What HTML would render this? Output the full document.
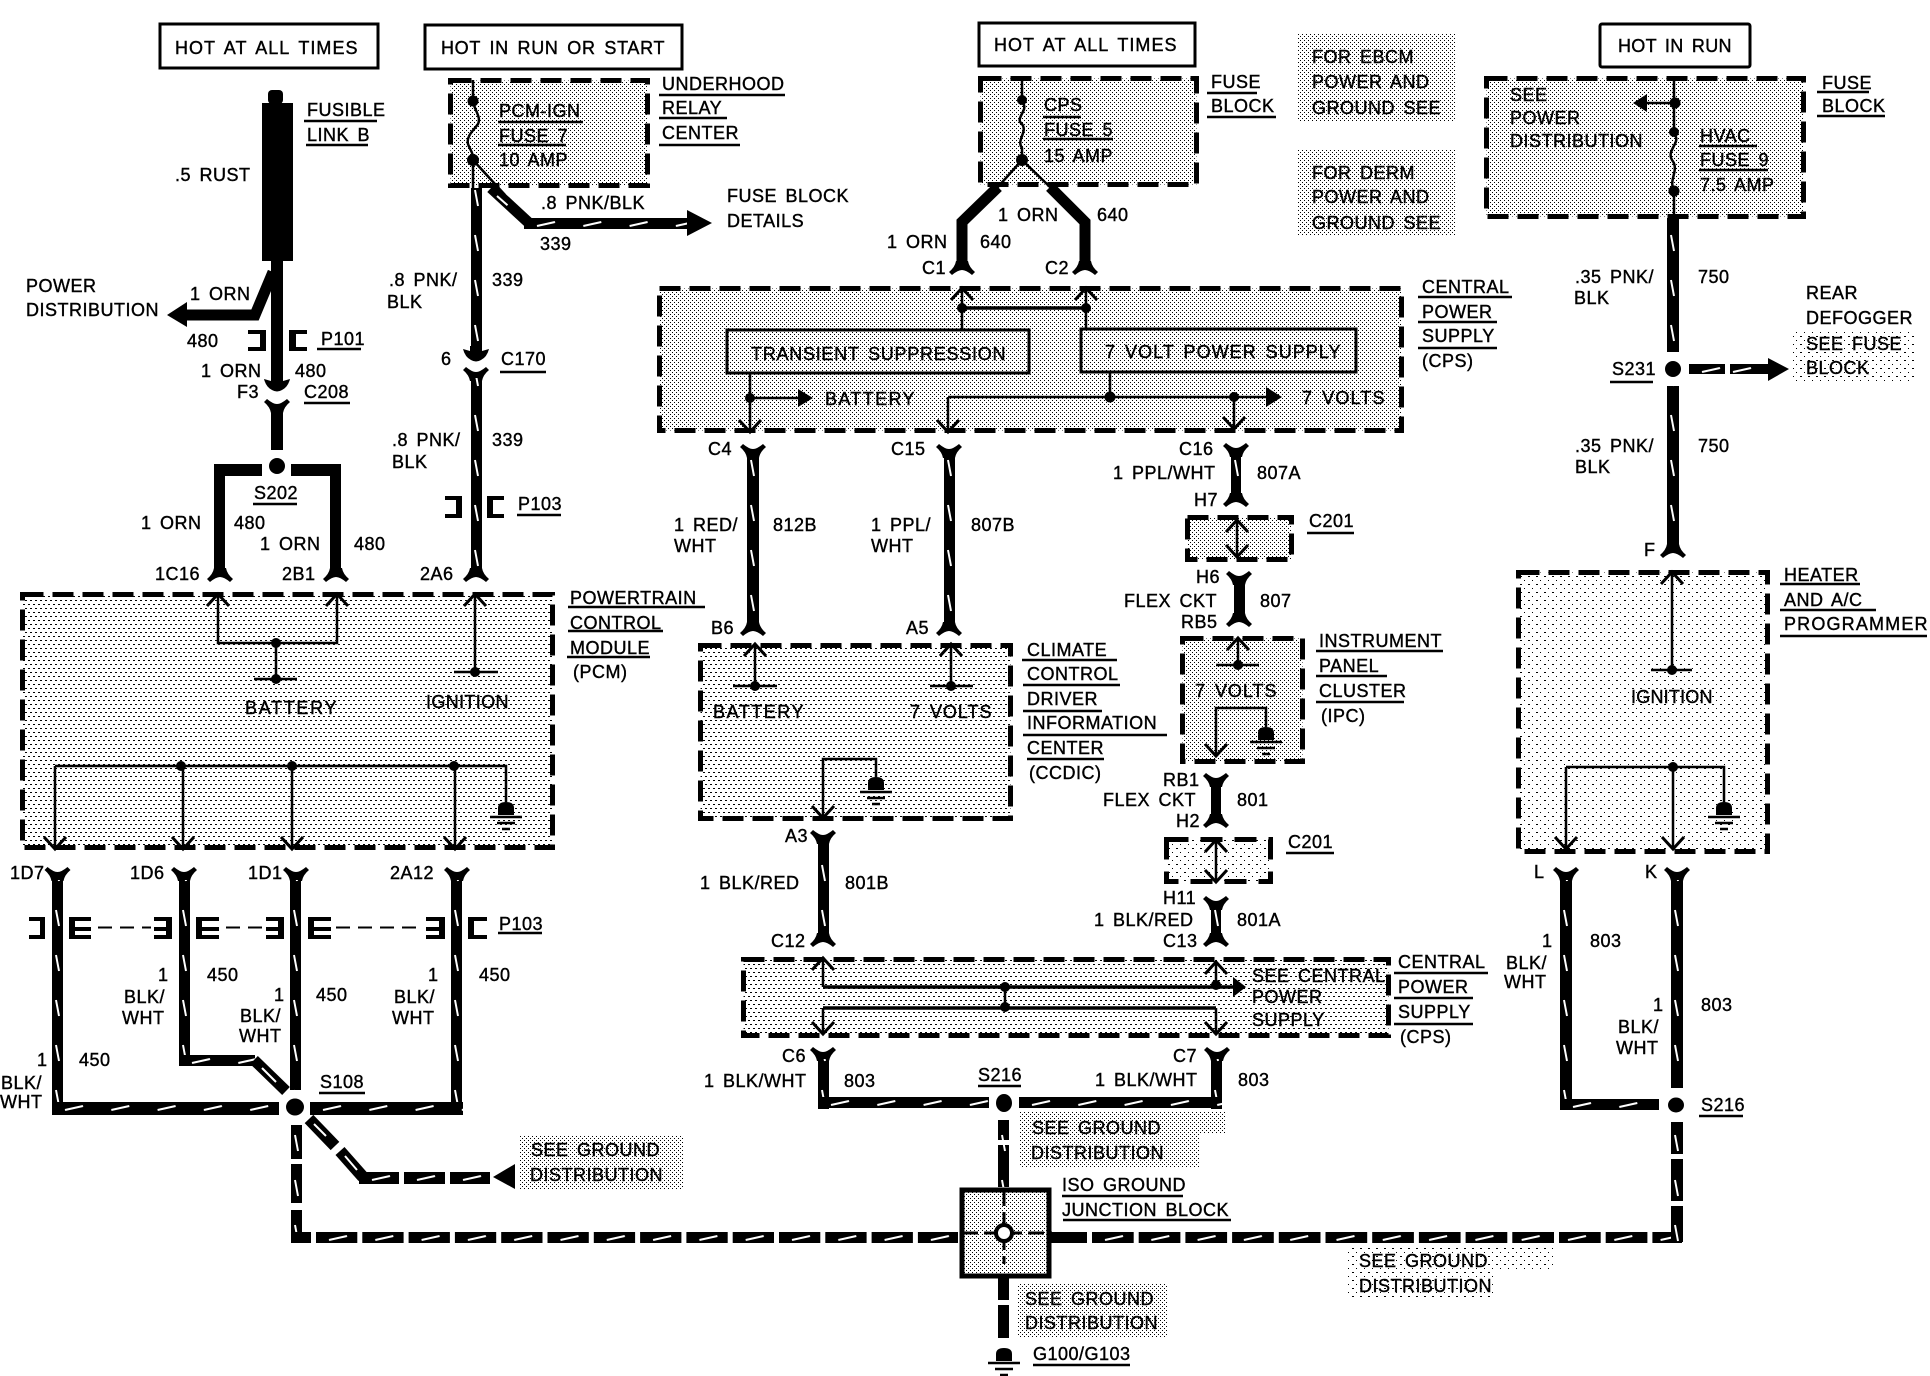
<!DOCTYPE html>
<html><head><meta charset="utf-8"><style>
html,body{margin:0;padding:0;background:#fff}
svg{display:block}
text{font-family:"Liberation Sans",sans-serif;font-size:18px;letter-spacing:.5px;word-spacing:3px;fill:#000;stroke:#000;stroke-width:.4}
.d{fill:url(#st);stroke:#000;stroke-width:5;stroke-dasharray:21 9}
.dd{fill:url(#st2);stroke:#000;stroke-width:5;stroke-dasharray:21 9}
.ds{fill:url(#st3);stroke:#000;stroke-width:5;stroke-dasharray:21 9}
.s{fill:url(#st2)}
.b{fill:#fff;stroke:#000;stroke-width:3}
.u{fill:none;stroke:#000;stroke-width:2.5}
.t{fill:none;stroke:#000;stroke-width:2.5}
.m{fill:none;stroke:#000;stroke-width:3.5}
.w{fill:none;stroke:#000;stroke-width:11;stroke-linejoin:miter}
.v{fill:url(#v)}.h{fill:url(#h)}
</style></head><body>
<svg width="1930" height="1376" viewBox="0 0 1930 1376" xmlns="http://www.w3.org/2000/svg">
<defs>
<pattern id="st" width="5" height="8" patternUnits="userSpaceOnUse"><rect x="0" y="0" width="2" height="1" fill="#000"/><rect x="3" y="4" width="2" height="1" fill="#000"/></pattern>
<pattern id="st2" width="4" height="4" patternUnits="userSpaceOnUse"><rect x="0" y="0" width="1" height="1" fill="#000"/><rect x="2" y="2" width="1" height="1" fill="#000"/></pattern>
<pattern id="st3" width="8" height="8" patternUnits="userSpaceOnUse"><rect x="0" y="0" width="2" height="1" fill="#000"/><rect x="4" y="4" width="1" height="1" fill="#000"/></pattern>
<pattern id="v" width="40" height="45" patternUnits="userSpaceOnUse"><rect width="40" height="45" fill="#000"/><path d="M4 10L7 26" stroke="#fff" stroke-width="2"/></pattern>
<pattern id="h" width="46.3" height="40" patternUnits="userSpaceOnUse"><rect width="46.3" height="40" fill="#000"/><path d="M13 8L31 4" stroke="#fff" stroke-width="2"/></pattern>
<path id="yU" d="M-13 3L-10 0Q-4 5 0 5Q4 5 10 0L13 3Q7 8 6 14L-6 14Q-7 8-13 3Z"/>
<path id="yD" d="M-13 -3L-10 0Q-4 -5 0 -5Q4 -5 10 0L13 -3Q7 -8 6 -14L-6 -14Q-7 -8-13 -3Z"/>
<path id="hs" d="M-6 -12L6 -12L6 -7L13 -9Q11 -1 5 2Q0 5-5 2Q-11 -1-13 -9L-6 -7Z"/>
<path id="cu" d="M-11 12L0 0L11 12M0 0" fill="none" stroke="#000" stroke-width="3"/>
<path id="cd" d="M-11 -12L0 0L11 -12" fill="none" stroke="#000" stroke-width="3"/>
<g id="g"><path d="M-8 13L-8 6Q-8 0 0 0Q8 0 8 6L8 13Z"/><path d="M-16 15H16M-9 21H9M-4 27H4" stroke="#000" stroke-width="2.5"/></g>
</defs>
<rect width="1930" height="1376" fill="#fff"/>

<!-- header boxes -->
<rect class="b" x="160" y="24" width="218" height="44"/>
<rect class="b" x="425" y="25" width="257" height="44"/>
<rect class="b" x="979" y="23" width="216" height="43"/>
<rect class="b" x="1600" y="24" width="150" height="43" rx="2"/>

<!-- stipple notes -->
<rect class="s" x="1297" y="34" width="159" height="87"/>
<rect class="s" x="1297" y="150" width="159" height="86"/>
<rect x="1793" y="329" width="122" height="52" fill="url(#st3)"/>
<rect class="s" x="519" y="1135" width="164" height="54"/>
<path class="s" d="M1019 1112H1226V1133H1200V1167H1019Z"/>
<rect class="s" x="1017" y="1283" width="150" height="55"/>
<path d="M1346 1248H1553V1270H1495V1297H1346Z" fill="url(#st3)"/>

<!-- dashed modules -->
<rect class="dd" x="450.5" y="80.5" width="197" height="105"/>
<rect class="dd" x="980.5" y="78.5" width="216" height="106"/>
<rect class="dd" x="1486.5" y="78.5" width="317" height="138"/>
<rect class="dd" x="659.5" y="288.5" width="742" height="142"/>
<rect class="d" x="22.5" y="594.5" width="530" height="253"/>
<rect class="d" x="700.5" y="645.5" width="310" height="173"/>
<rect class="dd" x="1187.5" y="517.5" width="104" height="42"/>
<rect class="dd" x="1182.5" y="638.5" width="120" height="123"/>
<rect class="ds" x="1166.5" y="839.5" width="104" height="42" style="stroke-dasharray:22 12"/>
<rect class="ds" x="1518.5" y="572.5" width="249" height="279"/>
<rect class="d" x="743.5" y="959.5" width="645" height="76"/>

<!-- left: fusible link -->
<rect x="262" y="103" width="31" height="158"/>
<rect x="268" y="90" width="15" height="14" rx="4"/>
<rect x="271" y="258" width="12" height="128"/>
<path class="w" d="M273 272L255 315H185"/>
<path d="M167 315L187 302V327Z"/>
<use href="#hs" x="277" y="388"/>
<use href="#yU" x="277" y="399"/>
<rect x="271" y="410" width="12" height="40"/>
<circle cx="277" cy="466" r="8"/>
<path d="M214 464H262V476H225V570H214ZM291 464H341V570H330V476H291Z"/>
<use href="#yD" x="220" y="582"/>
<use href="#yD" x="336" y="582"/>
<path d="M248 330H266V351H248V347H260V334H248ZM307 330H289V351H307V347H296V334H307Z"/>

<!-- wire 339 -->
<path class="t" d="M473 80V105M474 105C476 112 481 118 478 124C474 130 466 136 468 144C470 150 473 152 473 158M473 160V188"/>
<path class="t" d="M473 160L505 195"/>
<circle cx="473" cy="101" r="5.5"/><circle cx="473" cy="160" r="6"/>
<rect class="v" transform="translate(471,0)" y="188" width="11" height="160"/>
<use href="#hs" x="476" y="358"/>
<use href="#yU" x="476" y="367"/>
<rect class="v" transform="translate(471,0)" y="378" width="11" height="194"/>
<use href="#yD" x="476" y="582"/>
<path d="M445 496H462V518H445V514H456V500H445ZM504 496H487V518H504V514H493V500H504Z"/>
<path d="M491 188L529 223" fill="none" stroke="#000" stroke-width="11"/>
<path d="M497 196L522 218" stroke="#fff" stroke-width="2" stroke-dasharray="14 30"/>
<rect class="h" transform="translate(524,218)" width="165" height="11"/>
<path d="M712 223L687 210V236Z"/>

<!-- PCM inside -->
<path class="t" d="M218 594V643H337V594M276 643V679M254 679H297M475 594V672M454 672H498"/>
<circle cx="276" cy="643" r="5"/><circle cx="276" cy="679" r="5"/><circle cx="475" cy="672" r="5"/>
<use href="#cu" x="218" y="594"/><use href="#cu" x="337" y="594"/><use href="#cu" x="475" y="594"/>
<path class="t" d="M55 766H506V802M55 766V849M183 766V849M292 766V849M455 766V849"/>
<circle cx="181" cy="766" r="5"/><circle cx="292" cy="766" r="5"/><circle cx="454" cy="766" r="5"/>
<use href="#cd" x="55" y="849"/><use href="#cd" x="183" y="849"/><use href="#cd" x="292" y="849"/><use href="#cd" x="455" y="849"/>
<use href="#g" x="506" y="802"/>

<!-- PCM outputs -->
<use href="#yU" x="57.5" y="867"/><use href="#yU" x="184" y="867"/><use href="#yU" x="296" y="867"/><use href="#yU" x="457" y="867"/>
<rect class="v" transform="translate(52,0)" y="880" width="11" height="235"/>
<rect class="v" transform="translate(179,0)" y="880" width="11" height="186"/>
<rect class="v" transform="translate(290,0)" y="880" width="11" height="210"/>
<rect class="v" transform="translate(451,0)" y="880" width="11" height="235"/>
<rect class="h" transform="translate(52,1102)" width="227" height="13"/>
<rect class="h" transform="translate(310,1102)" width="153" height="13"/>
<rect class="h" transform="translate(179,1055)" width="76" height="11"/>
<path d="M254 1060L286 1091" fill="none" stroke="#000" stroke-width="11"/>
<path d="M262 1068L276 1082" stroke="#fff" stroke-width="2"/>
<ellipse cx="295" cy="1107" rx="9" ry="8.5"/>
<!-- brackets row -->
<path d="M29 917H45V939H29V935H40V921H29ZM91 917H69V939H91V935H75V931H91V927H75V921H91ZM154 917H172V939H154V935H166V931H154V927H166V921H154ZM219 917H196V939H219V935H202V931H219V927H202V921H219ZM266 917H284V939H266V935H278V931H266V927H278V921H266ZM331 917H308V939H331V935H314V931H331V927H314V921H331ZM426 917H445V939H426V935H439V931H426V927H439V921H426ZM487 917H468V939H487V935H474V921H487Z"/>
<path d="M98 927.5H151M226 927.5H262M336 927.5H422" stroke="#000" stroke-width="2" stroke-dasharray="14 8" fill="none"/>

<!-- ground branches -->
<rect class="v" transform="translate(291,0)" y="1125" width="11" height="34"/>
<rect class="v" transform="translate(291,0)" y="1164" width="11" height="39"/>
<rect class="v" transform="translate(291,0)" y="1210" width="11" height="33"/>
<rect x="291" y="1232" width="20" height="11"/>
<path d="M309 1119L335 1146" fill="none" stroke="#000" stroke-width="12"/>
<path d="M340 1151L363 1177" fill="none" stroke="#000" stroke-width="12"/>
<path d="M314 1124L326 1136M345 1156L357 1170" stroke="#fff" stroke-width="2"/>
<rect class="h" transform="translate(359,1172)" width="40" height="12"/>
<rect class="h" transform="translate(404,1172)" width="41" height="12"/>
<rect class="h" transform="translate(450,1172)" width="40" height="12"/>
<path d="M493 1177L515 1164V1189Z"/>

<!-- bottom long bus -->
<rect class="h" transform="translate(316,1232)" width="642" height="11"/>
<rect class="h" transform="translate(1092,1232)" width="590" height="11"/>
<rect x="1050" y="1232" width="37" height="11"/>
<path d="M311 1237.5H958" stroke="#fff" stroke-width="13" stroke-dasharray="5 41.3" fill="none"/>
<path d="M1087 1237.5H1660" stroke="#fff" stroke-width="13" stroke-dasharray="5 41.7" fill="none"/>

<!-- centre fuse -->
<path class="t" d="M1022 78V102C1030 110 1014 118 1022 124C1028 132 1016 140 1022 148V160"/>
<circle cx="1022" cy="100" r="5"/><circle cx="1022" cy="160" r="6"/>
<path class="t" d="M1022 160L997 188M1022 160L1051 188"/>
<path class="w" d="M998 187L962 222V264"/>
<path class="w" d="M1050 187L1085 222V264"/>
<use href="#yD" x="962" y="275"/><use href="#yD" x="1085" y="275"/>

<!-- CPS top inside -->
<path class="t" d="M962 288V330M1086 288V329"/>
<path class="m" d="M962 308H1086"/>
<circle cx="962" cy="308" r="5"/><circle cx="1086" cy="308" r="5"/>
<use href="#cu" x="962" y="288"/><use href="#cu" x="1086" y="288"/>
<rect x="727" y="330" width="302" height="43" fill="none" stroke="#000" stroke-width="3"/>
<rect x="1081" y="329" width="275" height="43" fill="none" stroke="#000" stroke-width="3"/>
<path class="t" d="M750 373V431M750 398H800M1110 372V397M948 397H1268M948 397V431M1234 397V428"/>
<circle cx="750" cy="398" r="5"/><circle cx="1110" cy="397" r="5.5"/><circle cx="1234" cy="397" r="5"/>
<path d="M813 398L798 389V407Z"/><path d="M1282 397L1266 387V407Z"/>
<use href="#cd" x="750" y="432"/><use href="#cd" x="948" y="432"/><use href="#cd" x="1234" y="429"/>

<!-- CPS outputs -->
<use href="#yU" x="753" y="444"/><use href="#yU" x="949" y="444"/><use href="#yU" x="1236" y="443"/>
<rect class="v" transform="translate(747,0)" y="456" width="12" height="168"/>
<rect class="v" transform="translate(944,0)" y="456" width="11" height="168"/>
<rect class="v" transform="translate(1231,0)" y="456" width="10" height="40"/>
<use href="#yD" x="753" y="636"/><use href="#yD" x="949" y="636"/><use href="#yD" x="1236" y="507"/>
<path class="t" d="M1237 520V557"/><use href="#cu" x="1237" y="520"/><use href="#cd" x="1237" y="557"/>
<use href="#yU" x="1239" y="571"/><rect x="1234" y="583" width="11" height="35"/><use href="#yD" x="1239" y="627"/>

<!-- CCDIC inside -->
<path class="t" d="M755 644V686M733 686H777M951 644V686M930 686H973"/>
<circle cx="755" cy="686" r="5"/><circle cx="951" cy="686" r="5"/>
<use href="#cu" x="755" y="644"/><use href="#cu" x="951" y="644"/>
<path class="t" d="M823 818V759H876V777"/><use href="#cd" x="823" y="818"/><use href="#g" x="876" y="777"/>
<use href="#yU" x="823" y="830"/>
<rect class="v" transform="translate(818,0)" y="842" width="11" height="96"/>
<use href="#yD" x="823" y="947"/>

<!-- IPC inside -->
<path class="t" d="M1238 638V665M1216 665H1259M1216 755V708H1266V727"/>
<circle cx="1238" cy="665" r="5"/>
<use href="#cu" x="1238" y="638"/><use href="#cd" x="1216" y="756"/><use href="#g" x="1266" y="727"/>
<use href="#yU" x="1216" y="773"/><rect x="1211" y="785" width="10" height="34"/><use href="#yD" x="1216" y="828"/>
<path class="t" d="M1216 840V881"/><use href="#cu" x="1216" y="840"/><use href="#cd" x="1216" y="882"/>
<use href="#yU" x="1216" y="896"/>
<rect class="v" transform="translate(1211,0)" y="908" width="10" height="30"/>
<use href="#yD" x="1216" y="947"/>

<!-- CPS lower -->
<path class="t" d="M823 959V987M1216 963V987M1005 987V1008M823 1008V1033M1216 1008V1033M823 1008H1216"/>
<path class="m" d="M823 987H1236"/><path class="m" d="M823 1008H1216"/>
<circle cx="1005" cy="987" r="5"/><circle cx="1005" cy="1007" r="5"/><circle cx="1216" cy="985" r="5"/>
<path d="M1246 987L1233 977V997Z"/>
<use href="#cu" x="823" y="958"/><use href="#cu" x="1216" y="962"/><use href="#cd" x="823" y="1034"/><use href="#cd" x="1216" y="1034"/>
<use href="#yU" x="823" y="1047"/><use href="#yU" x="1217" y="1047"/>
<rect class="v" transform="translate(818,0)" y="1059" width="11" height="50"/>
<rect class="v" transform="translate(1211,0)" y="1059" width="11" height="50"/>
<rect class="h" transform="translate(818,1097)" width="171" height="11"/>
<rect class="h" transform="translate(1019,1097)" width="203" height="11"/>
<ellipse cx="1004" cy="1103" rx="8" ry="9"/>
<rect class="v" transform="translate(998,0)" y="1120" width="11" height="20"/>
<rect class="v" transform="translate(998,0)" y="1145" width="11" height="42"/>

<!-- junction block -->
<rect x="962" y="1190" width="87" height="86" fill="url(#st2)" stroke="#000" stroke-width="5"/>
<path d="M1004 1190V1264M962 1233H1052" stroke="#000" stroke-width="3" stroke-dasharray="16 6" fill="none"/>
<circle cx="1004" cy="1233" r="8" fill="#fff" stroke="#000" stroke-width="4"/>
<rect x="998" y="1278" width="11" height="22"/><rect x="998" y="1305" width="11" height="33"/>
<use href="#g" x="1004" y="1348"/>

<!-- right fuse -->
<path class="t" d="M1674 78V134C1682 142 1666 150 1672 160C1680 170 1668 180 1674 190V218"/>
<circle cx="1675" cy="103" r="5.5"/><circle cx="1674" cy="132" r="5"/><circle cx="1674" cy="191" r="5.5"/>
<path class="t" d="M1647 103H1675"/><path d="M1633 103L1647 94V112Z"/>
<rect class="v" transform="translate(1667,0)" y="218" width="12" height="134"/>
<circle cx="1673" cy="369" r="8"/>
<rect class="h" transform="translate(1689,364)" width="36" height="10"/>
<rect class="h" transform="translate(1720,364)" x="10" width="38" height="10"/>
<path d="M1789 369L1768 358V381Z"/>
<rect class="v" transform="translate(1667,0)" y="386" width="12" height="160"/>
<use href="#yD" x="1673" y="558"/>

<!-- heater inside -->
<path class="t" d="M1672 572V670M1651 670H1692M1566 767H1724V802M1566 767V849M1673 767V849"/>
<circle cx="1672" cy="670" r="5"/><circle cx="1673" cy="767" r="5"/>
<use href="#cu" x="1672" y="572"/><use href="#cd" x="1566" y="849"/><use href="#cd" x="1673" y="849"/>
<use href="#g" x="1724" y="802"/>
<use href="#yU" x="1566" y="867"/><use href="#yU" x="1677" y="867"/>
<rect class="v" transform="translate(1560,0)" y="880" width="12" height="230"/>
<rect class="h" transform="translate(1560,1099)" width="99" height="11"/>
<rect class="v" transform="translate(1671,0)" y="880" width="12" height="208"/>
<ellipse cx="1676" cy="1105" rx="8" ry="7.5"/>
<rect class="v" transform="translate(1671,0)" y="1122" width="12" height="32"/>
<rect class="v" transform="translate(1671,0)" y="1159" width="12" height="42"/>
<rect class="v" transform="translate(1671,0)" y="1206" width="12" height="36"/>

<!-- underlines -->
<path class="u" d="M304 121H377M306 145H368M317 349H361M304 403H350M253 504H297M500 372H546M517 515H561M498 122H583M498 145H566M659 95H785M659 118H727M659 145H740M1043 117H1081M1043 139H1113M1207 93H1257M1207 117H1276M1418 297H1512M1418 322H1497M1418 348H1497M1307 533H1354M1316 651H1443M1316 676H1387M1316 702H1404M1022 660H1117M1023 685H1120M1023 711H1102M1023 735H1167M1027 759H1104M1286 853H1334M1394 973H1488M1394 998H1473M1394 1024H1473M978 1086H1021M1062 1196H1183M1063 1220H1231M1033 1365H1130M568 607H705M568 631H663M567 657H650M498 933H542M319 1093H365M1699 146H1757M1699 170H1768M1817 92H1869M1817 116H1885M1610 382H1653M1780 584H1860M1780 610H1876M1780 636H1927M1699 1116H1743"/>

<!-- text -->
<text x="175" y="54" textLength="183">HOT AT ALL TIMES</text>
<text x="441" y="54" textLength="224">HOT IN RUN OR START</text>
<text x="994" y="51" textLength="183">HOT AT ALL TIMES</text>
<text x="1618" y="52" textLength="114">HOT IN RUN</text>
<text x="307" y="116">FUSIBLE</text><text x="307" y="141">LINK B</text>
<text x="175" y="181">.5 RUST</text>
<text x="26" y="292">POWER</text><text x="26" y="316">DISTRIBUTION</text>
<text x="190" y="300">1 ORN</text><text x="187" y="347">480</text><text x="321" y="345">P101</text>
<text x="201" y="377">1 ORN</text><text x="295" y="377">480</text>
<text x="237" y="398">F3</text><text x="304" y="398">C208</text>
<text x="254" y="499">S202</text>
<text x="141" y="529">1 ORN</text><text x="234" y="529">480</text>
<text x="260" y="550">1 ORN</text><text x="354" y="550">480</text>
<text x="155" y="580">1C16</text><text x="282" y="580">2B1</text><text x="420" y="580">2A6</text>
<text x="389" y="286">.8 PNK/</text><text x="387" y="308">BLK</text><text x="492" y="286">339</text>
<text x="441" y="365">6</text><text x="501" y="365">C170</text>
<text x="392" y="446">.8 PNK/</text><text x="392" y="468">BLK</text><text x="492" y="446">339</text>
<text x="518" y="510">P103</text>
<text x="499" y="117">PCM-IGN</text><text x="499" y="142">FUSE 7</text><text x="499" y="166">10 AMP</text>
<text x="541" y="209">.8 PNK/BLK</text><text x="540" y="250">339</text>
<text x="662" y="90">UNDERHOOD</text><text x="662" y="114">RELAY</text><text x="662" y="139">CENTER</text>
<text x="727" y="202">FUSE BLOCK</text><text x="727" y="227">DETAILS</text>
<text x="887" y="248">1 ORN</text><text x="980" y="248">640</text>
<text x="922" y="274">C1</text><text x="1045" y="274">C2</text>
<text x="998" y="221">1 ORN</text><text x="1097" y="221">640</text>
<text x="1044" y="111">CPS</text><text x="1044" y="136">FUSE 5</text><text x="1044" y="162">15 AMP</text>
<text x="1211" y="88">FUSE</text><text x="1211" y="112">BLOCK</text>
<text x="1312" y="63">FOR EBCM</text><text x="1312" y="88">POWER AND</text><text x="1312" y="114">GROUND SEE</text>
<text x="1312" y="179">FOR DERM</text><text x="1312" y="203">POWER AND</text><text x="1312" y="229">GROUND SEE</text>
<text x="751" y="360" textLength="255">TRANSIENT SUPPRESSION</text>
<text x="1105" y="358" textLength="236">7 VOLT POWER SUPPLY</text>
<text x="825" y="405" textLength="90">BATTERY</text><text x="1302" y="404" textLength="83">7 VOLTS</text>
<text x="708" y="455">C4</text><text x="891" y="455">C15</text><text x="1179" y="455">C16</text>
<text x="1422" y="293">CENTRAL</text><text x="1422" y="318">POWER</text><text x="1422" y="342">SUPPLY</text><text x="1422" y="367">(CPS)</text>
<text x="1113" y="479">1 PPL/WHT</text><text x="1257" y="479">807A</text>
<text x="1194" y="506">H7</text><text x="1309" y="527">C201</text>
<text x="1196" y="583">H6</text><text x="1124" y="607">FLEX CKT</text><text x="1260" y="607">807</text><text x="1181" y="628">RB5</text>
<text x="1319" y="647">INSTRUMENT</text><text x="1319" y="672">PANEL</text><text x="1319" y="697">CLUSTER</text><text x="1321" y="722">(IPC)</text>
<text x="1195" y="697" textLength="82">7 VOLTS</text>
<text x="674" y="531">1 RED/</text><text x="674" y="552">WHT</text><text x="773" y="531">812B</text>
<text x="871" y="531">1 PPL/</text><text x="871" y="552">WHT</text><text x="971" y="531">807B</text>
<text x="711" y="634">B6</text><text x="906" y="634">A5</text>
<text x="1027" y="656">CLIMATE</text><text x="1027" y="680">CONTROL</text><text x="1027" y="705">DRIVER</text><text x="1027" y="729">INFORMATION</text><text x="1027" y="754">CENTER</text><text x="1029" y="779">(CCDIC)</text>
<text x="713" y="718" textLength="91">BATTERY</text><text x="910" y="718" textLength="82">7 VOLTS</text>
<text x="1163" y="786">RB1</text><text x="1103" y="806">FLEX CKT</text><text x="1237" y="806">801</text><text x="1176" y="827">H2</text>
<text x="1288" y="848">C201</text>
<text x="785" y="842">A3</text><text x="700" y="889">1 BLK/RED</text><text x="845" y="889">801B</text>
<text x="1163" y="904">H11</text><text x="1094" y="926">1 BLK/RED</text><text x="1237" y="926">801A</text>
<text x="771" y="947">C12</text><text x="1163" y="947">C13</text>
<text x="1252" y="982">SEE CENTRAL</text><text x="1252" y="1003">POWER</text><text x="1252" y="1026">SUPPLY</text>
<text x="1398" y="968">CENTRAL</text><text x="1398" y="993">POWER</text><text x="1398" y="1018">SUPPLY</text><text x="1400" y="1043">(CPS)</text>
<text x="782" y="1062">C6</text><text x="1173" y="1062">C7</text>
<text x="704" y="1087">1 BLK/WHT</text><text x="844" y="1087">803</text><text x="978" y="1081">S216</text>
<text x="1095" y="1086">1 BLK/WHT</text><text x="1238" y="1086">803</text>
<text x="1032" y="1134">SEE GROUND</text><text x="1031" y="1159">DISTRIBUTION</text>
<text x="1062" y="1191">ISO GROUND</text><text x="1062" y="1216">JUNCTION BLOCK</text>
<text x="1025" y="1305">SEE GROUND</text><text x="1025" y="1329">DISTRIBUTION</text>
<text x="1033" y="1360">G100/G103</text>
<text x="1359" y="1267">SEE GROUND</text><text x="1359" y="1292">DISTRIBUTION</text>
<text x="570" y="604">POWERTRAIN</text><text x="570" y="629">CONTROL</text><text x="570" y="654">MODULE</text><text x="573" y="678">(PCM)</text>
<text x="245" y="714" textLength="92">BATTERY</text><text x="426" y="708" textLength="83">IGNITION</text>
<text x="10" y="879">1D7</text><text x="130" y="879">1D6</text><text x="248" y="879">1D1</text><text x="390" y="879">2A12</text>
<text x="499" y="930">P103</text>
<text x="158" y="981">1</text><text x="124" y="1003">BLK/</text><text x="122" y="1024">WHT</text><text x="207" y="981">450</text>
<text x="274" y="1001">1</text><text x="240" y="1022">BLK/</text><text x="239" y="1042">WHT</text><text x="316" y="1001">450</text>
<text x="428" y="981">1</text><text x="394" y="1003">BLK/</text><text x="392" y="1024">WHT</text><text x="479" y="981">450</text>
<text x="37" y="1066">1</text><text x="1" y="1089">BLK/</text><text x="0" y="1108">WHT</text><text x="79" y="1066">450</text>
<text x="320" y="1088">S108</text>
<text x="531" y="1156">SEE GROUND</text><text x="530" y="1181">DISTRIBUTION</text>
<text x="1510" y="101">SEE</text><text x="1510" y="124">POWER</text><text x="1510" y="147">DISTRIBUTION</text>
<text x="1700" y="142">HVAC</text><text x="1700" y="166">FUSE 9</text><text x="1700" y="191">7.5 AMP</text>
<text x="1822" y="89">FUSE</text><text x="1822" y="112">BLOCK</text>
<text x="1575" y="283">.35 PNK/</text><text x="1574" y="304">BLK</text><text x="1698" y="283">750</text>
<text x="1806" y="299">REAR</text><text x="1806" y="324">DEFOGGER</text><text x="1806" y="350">SEE FUSE</text><text x="1806" y="374">BLOCK</text>
<text x="1612" y="375">S231</text>
<text x="1575" y="452">.35 PNK/</text><text x="1575" y="473">BLK</text><text x="1698" y="452">750</text>
<text x="1644" y="556">F</text>
<text x="1784" y="581">HEATER</text><text x="1784" y="606">AND A/C</text><text x="1784" y="630" textLength="144">PROGRAMMER</text>
<text x="1631" y="703" textLength="82">IGNITION</text>
<text x="1534" y="878">L</text><text x="1645" y="878">K</text>
<text x="1542" y="947">1</text><text x="1506" y="969">BLK/</text><text x="1504" y="988">WHT</text><text x="1590" y="947">803</text>
<text x="1653" y="1011">1</text><text x="1618" y="1033">BLK/</text><text x="1616" y="1054">WHT</text><text x="1701" y="1011">803</text>
<text x="1701" y="1111">S216</text>
</svg>
</body></html>
